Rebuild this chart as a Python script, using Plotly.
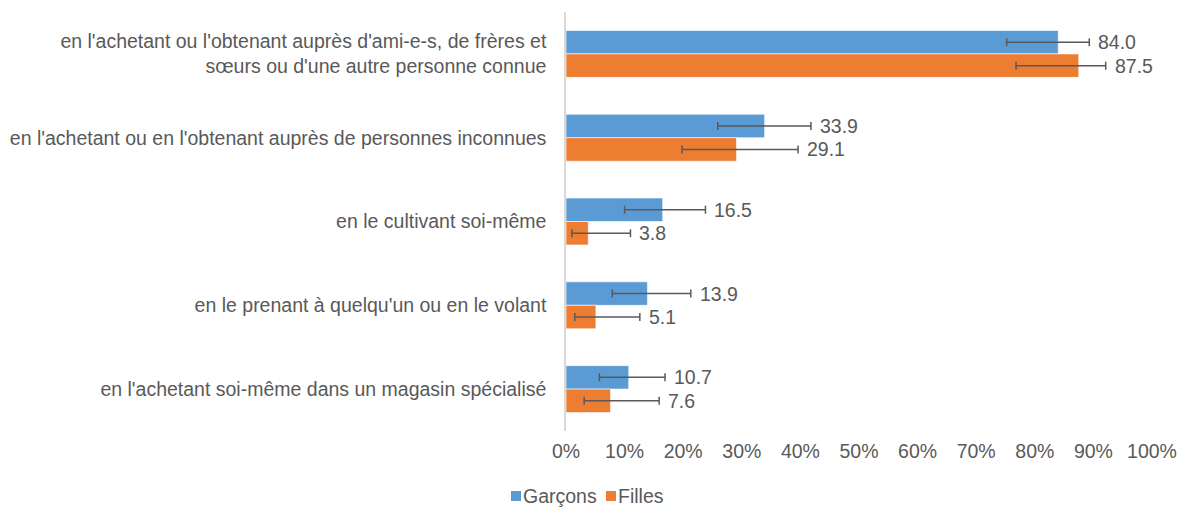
import plotly.graph_objects as go

categories = [
    "en l'achetant ou l'obtenant auprès d'ami-e-s, de frères et<br>sœurs ou d'une autre personne connue",
    "en l'achetant ou en l'obtenant auprès de personnes inconnues",
    "en le cultivant soi-même",
    "en le prenant à quelqu'un ou en le volant",
    "en l'achetant soi-même dans un magasin spécialisé",
]

garcons = [84.0, 33.9, 16.5, 13.9, 10.7]
garcons_low = [75.2, 25.9, 10.0, 7.9, 5.7]
garcons_high = [89.3, 41.8, 23.8, 21.3, 16.9]

filles = [87.5, 29.1, 3.8, 5.1, 7.6]
filles_low = [76.8, 19.8, 1.0, 1.5, 3.1]
filles_high = [92.1, 39.6, 11.0, 12.6, 15.9]

x_ticks = [0, 10, 20, 30, 40, 50, 60, 70, 80, 90, 100]

TEXT = "#595959"
FONT = "Liberation Sans, Arial, sans-serif"
FS = 19.5

W, H = 1185, 508
M = dict(l=566, r=33, t=12, b=77)
PLOT_W = W - M["l"] - M["r"]
PLOT_H = H - M["t"] - M["b"]

series = [
    ("Garçons", garcons, garcons_low, garcons_high, "#5B9BD5"),
    ("Filles", filles, filles_low, filles_high, "#ED7D31"),
]

fig = go.Figure()
for name, values, low, high, color in series:
    fig.add_trace(go.Bar(
        name=name,
        y=categories,
        x=values,
        orientation="h",
        marker=dict(color=color, line=dict(color="white", width=0.6)),
        error_x=dict(
            type="data",
            symmetric=False,
            array=[h - v for v, h in zip(values, high)],
            arrayminus=[v - l for v, l in zip(values, low)],
            color="#595959",
            thickness=1.5,
            width=4,
        ),
    ))

# value labels just past the upper end of each error bar
annotations = []
for (name, values, low, high, color), offset in zip(series, (-0.14, 0.14)):
    for i, (v, h) in enumerate(zip(values, high)):
        annotations.append(dict(
            x=h, y=i + offset, xref="x", yref="y",
            text=f"{v:.1f}", showarrow=False,
            xanchor="left", yanchor="middle", xshift=7,
            font=dict(size=FS, color=TEXT, family=FONT),
        ))

# compact legend below the axis: coloured square + name
shapes = []
legend_y = -(496 - (H - M["b"])) / PLOT_H
sq = 10 / PLOT_H
legend_x = [511, 606]
for (name, values, low, high, color), px in zip(series, legend_x):
    x0 = (px - M["l"]) / PLOT_W
    x1 = (px + 10 - M["l"]) / PLOT_W
    shapes.append(dict(
        type="rect", xref="paper", yref="paper",
        x0=x0, x1=x1, y0=legend_y - sq / 2, y1=legend_y + sq / 2,
        fillcolor=color, line=dict(width=0),
    ))
    annotations.append(dict(
        x=x1, y=legend_y, xref="paper", yref="paper",
        text=name, showarrow=False, xanchor="left", yanchor="middle",
        xshift=0, font=dict(size=FS, color=TEXT, family=FONT),
    ))

fig.update_layout(
    width=W, height=H,
    margin=dict(**M, autoexpand=False),
    paper_bgcolor="white", plot_bgcolor="white",
    barmode="group", bargap=0.44, bargroupgap=0,
    font=dict(family=FONT, size=FS, color=TEXT),
    showlegend=False,
    annotations=annotations,
    shapes=shapes,
)

fig.update_xaxes(
    range=[0, 100], tickvals=x_ticks,
    ticktext=[f"{t}%" for t in x_ticks],
    showgrid=False, zeroline=False, showline=False,
    tickfont=dict(size=FS, color=TEXT), ticks="",
    ticklabelstandoff=6,
)
fig.update_yaxes(
    autorange="reversed", showgrid=False, zeroline=False,
    showline=True, linecolor="#D9D9D9", linewidth=1.5,
    ticks="", ticklabelstandoff=14,
    tickfont=dict(size=FS, color=TEXT),
)

fig.write_html("out.html")
